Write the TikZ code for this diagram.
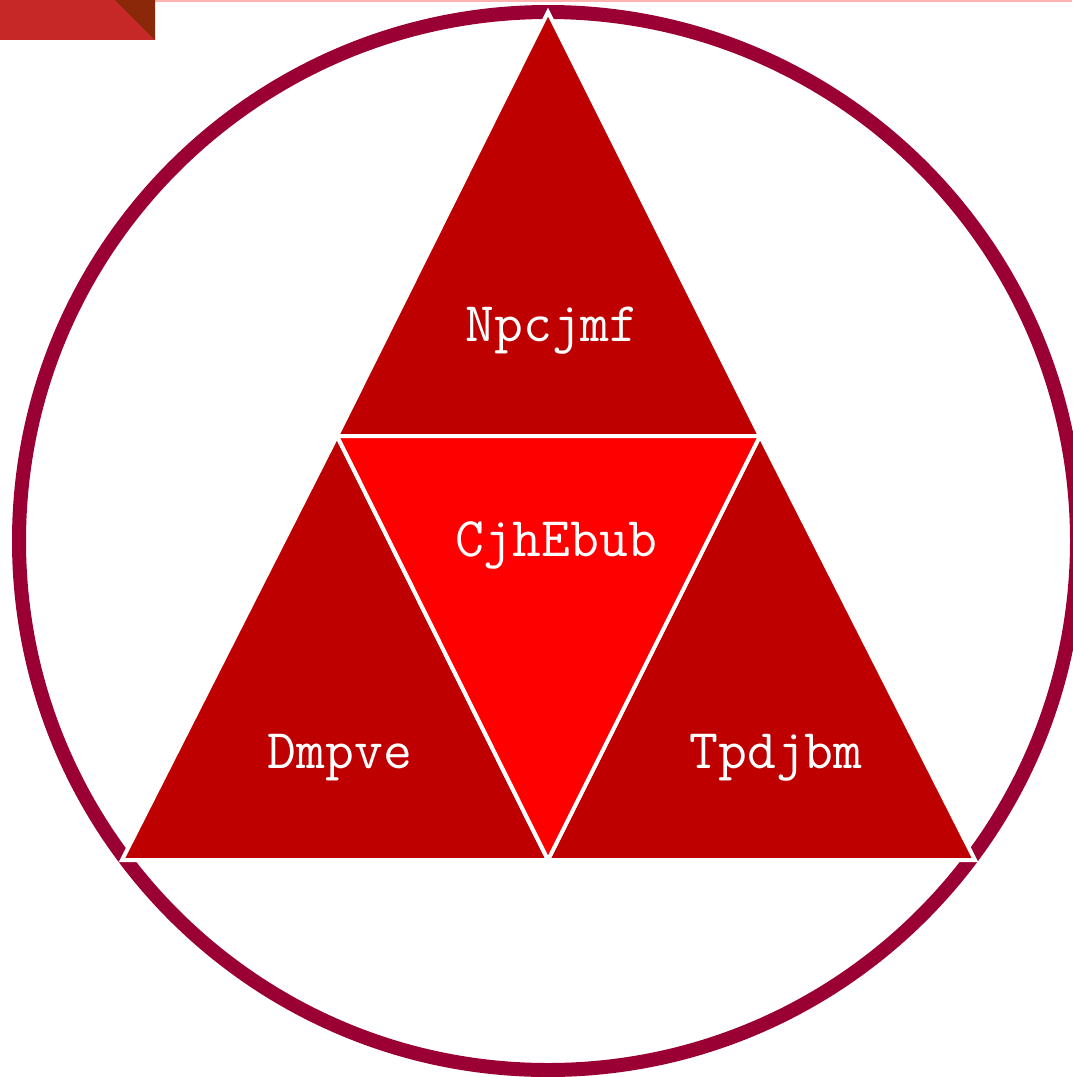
\documentclass[tikz,border=0pt]{standalone}
\usepackage{fontspec}
\begin{document}
\begin{tikzpicture}[x=1pt,y=-1pt,
  ring/.style={draw=ringc,line width=14pt},
  tri/.style={draw=white,line width=4pt,line join=miter},
  lbl/.style={text=white,font=\ttfamily\fontsize{56}{60}\selectfont,inner sep=0pt}]
\definecolor{ringc}{RGB}{155,0,52}
\definecolor{darkred}{RGB}{190,0,0}
\definecolor{brightred}{RGB}{255,0,0}
\definecolor{tabred}{RGB}{198,40,40}
\definecolor{tabcorner}{RGB}{140,40,10}
\useasboundingbox (0,0) rectangle (1072,1077);
\fill[white] (0,0) rectangle (1072,1077);
% top strip
\fill[red!30] (0,0) rectangle (1072,2);
\fill[tabred] (0,0) rectangle (155,40);
\fill[tabcorner] (115,0) -- (155,0) -- (155,40) -- cycle;
% circle
\node[circle,ring,minimum size=1058pt,inner sep=0pt] (ringnode) at (548,541) {};
% vertices
\coordinate (apex) at (548,12);
\coordinate (bl) at (122,860);
\coordinate (br) at (975,860);
\coordinate (ml) at (337,436);
\coordinate (mr) at (760,436);
\coordinate (mb) at (548,860);
% triangles
\filldraw[tri,fill=darkred] (apex) -- (mr) -- (ml) -- cycle;
\filldraw[tri,fill=darkred] (ml) -- (mb) -- (bl) -- cycle;
\filldraw[tri,fill=darkred] (mr) -- (br) -- (mb) -- cycle;
\filldraw[tri,fill=brightred] (ml) -- (mr) -- (mb) -- cycle;
% labels
\node[lbl] (top) at (552,331) {Npcjmf};
\node[lbl] (center) at (556,545) {CjhEbub};
\node[lbl] (left) at (340,758) {Dmpve};
\node[lbl] (right) at (776,758) {Tpdjbm};
\end{tikzpicture}
\end{document}
